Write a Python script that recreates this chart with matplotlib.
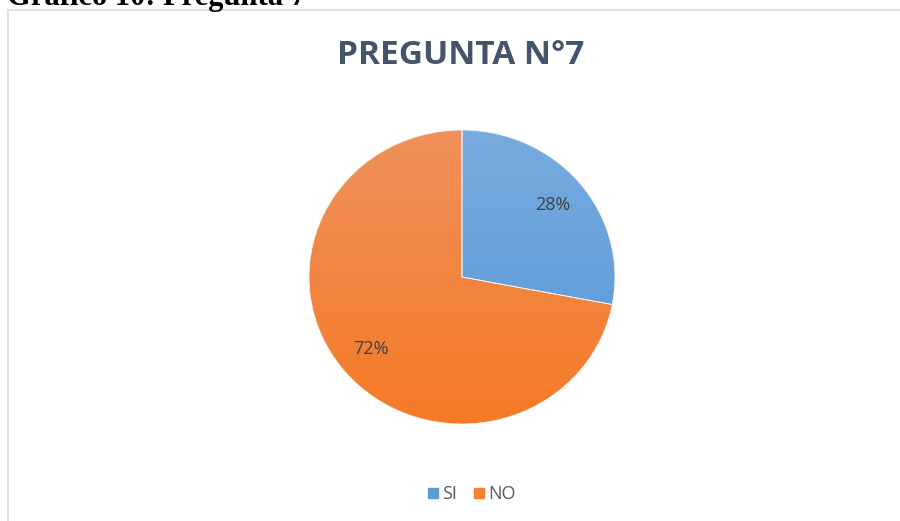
import numpy as np
import matplotlib.pyplot as plt
from matplotlib.colors import LinearSegmentedColormap
from matplotlib.lines import Line2D
from matplotlib.patches import Rectangle

labels = ['SI', 'NO']
values = [28, 72]
top_colors = ['#78ABDE', '#F0905C']
bottom_colors = ['#5497DA', '#F57A25']

fig = plt.figure(figsize=(9, 5.21), dpi=100)
fig.patch.set_facecolor('white')

# chart frame
fig.patches.append(Rectangle((8 / 900, -0.01), 1.0, 1 - 10 / 521 + 0.01,
                             transform=fig.transFigure, fill=False,
                             edgecolor='#D9DCE3', linewidth=1.2))

# caption cut at the top of the page
fig.text(7 / 900, 1 - 5 / 521, 'Gráfico 10: Pregunta 7', fontsize=22,
         fontweight='bold', family='Liberation Serif', va='baseline',
         ha='left', color='black')

fig.text(461 / 900, 1 - 55 / 521, 'PREGUNTA N°7', fontsize=24,
         fontweight='bold', family='Open Sans', color='#44546A',
         ha='center', va='center')

ax = fig.add_axes([(462 - 153) / 900, (521 - 277 - 147) / 521, 306 / 900, 294 / 521])
wedges, texts = ax.pie(values, startangle=90, counterclock=False, radius=1,
                       wedgeprops=dict(linewidth=0.6, edgecolor='#F4F4F4'))
ax.set_aspect('auto')

grad = np.linspace(1, 0, 256).reshape(-1, 1)
for w, c1, c2 in zip(wedges, top_colors, bottom_colors):
    cmap = LinearSegmentedColormap.from_list('g', [c2, c1])
    im = ax.imshow(grad, cmap=cmap, extent=[-1, 1, -1, 1], aspect='auto',
                   origin='upper', zorder=1)
    im.set_clip_path(w)
    w.set_facecolor('none')
    w.set_zorder(2)

# percentage labels
total = sum(values)
start = 90
for v in values:
    theta = np.deg2rad(start - v / total * 180)
    ax.text(0.77 * np.cos(theta), 0.77 * np.sin(theta), f'{v}%',
            fontsize=13, family='Open Sans', color='#404040',
            ha='center', va='center', zorder=3)
    start -= v / total * 360

ax.set_xlim(-1, 1)
ax.set_ylim(-1, 1)
ax.axis('off')

handles = [Line2D([0], [0], marker='s', linestyle='', markersize=7,
                  markerfacecolor=c, markeredgecolor=c) for c in
           ['#5B9BD5', '#F58236']]
fig.legend(handles, labels, loc='center', bbox_to_anchor=(469 / 900, 1 - 494 / 521),
           ncol=2, frameon=False, handletextpad=-0.1, columnspacing=0.6,
           handlelength=1.2, prop=dict(family='Open Sans', size=13),
           labelcolor='#595959')

fig.savefig('out.png', dpi=100, facecolor='white')
